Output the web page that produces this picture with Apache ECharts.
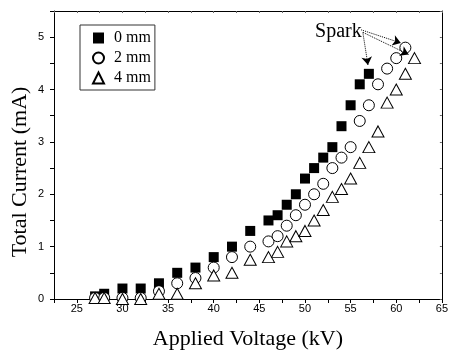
<!DOCTYPE html>
<html>
<head>
<meta charset="utf-8">
<script src="https://cdn.jsdelivr.net/npm/echarts@6/dist/echarts.min.js"></script>
<style>
	html, body { margin: 0; padding: 0; background: #fff; }
	#chart { width: 451px; height: 356px; }
</style>
</head>
<body>
<div id="chart"></div>
<script>
/* Data */
const voltage_0mm = [27, 28, 30, 32, 34, 36, 38, 40, 42, 44, 46, 47, 48, 49, 50, 51, 52, 53, 54, 55, 56, 57];
const current_0mm = [0.05, 0.1, 0.2, 0.2, 0.3, 0.5, 0.6, 0.8, 1.0, 1.3, 1.5, 1.6, 1.8, 2.0, 2.3, 2.5, 2.7, 2.9, 3.3, 3.7, 4.1, 4.3];

const voltage_2mm = [27, 28, 30, 32, 34, 36, 38, 40, 42, 44, 46, 47, 48, 49, 50, 51, 52, 53, 54, 55, 56, 57, 58, 59, 60, 61];
const current_2mm = [0.02, 0.02, 0.02, 0.02, 0.15, 0.3, 0.4, 0.6, 0.8, 1.0, 1.1, 1.2, 1.4, 1.6, 1.8, 2.0, 2.2, 2.5, 2.7, 2.9, 3.4, 3.7, 4.1, 4.4, 4.6, 4.8];

const voltage_4mm = [27, 28, 30, 32, 34, 36, 38, 40, 42, 44, 46, 47, 48, 49, 50, 51, 52, 53, 54, 55, 56, 57, 58, 59, 60, 61, 62];
const current_4mm = [0.02, 0.02, 0.0, 0.0, 0.1, 0.1, 0.3, 0.45, 0.5, 0.75, 0.8, 0.9, 1.1, 1.2, 1.3, 1.5, 1.7, 1.95, 2.1, 2.3, 2.6, 2.9, 3.2, 3.75, 4.0, 4.3, 4.6];

const seriesNames = ["0 mm", "2 mm", "4 mm"];

/* "Spark" annotation, in data units */
const sparkText = "Spark";
const sparkLabelAt = [56.27, 5.11];
const sparkArrows = [
	[[56.34, 5.09], [56.9, 4.47]],
	[[56.16, 5.14], [60.5, 4.89]],
	[[56.37, 5.09], [61.35, 4.67]],
];

const xRange = [22.5, 65];
const yRange = [0, 5.5];

const pairs = (xs, ys) => xs.map((x, i) => [x, ys[i]]);

const serif = "'Liberation Serif', 'Times New Roman', serif";
const sans = "'Liberation Sans', Arial, sans-serif";

/* Axes */
const frameAxis = (extra) => Object.assign({
	type: "value",
	axisLine: { show: true, onZero: false, lineStyle: { color: "#000", width: 1 } },
	axisTick: { show: true, inside: true, length: 2, lineStyle: { color: "#666" } },
	axisLabel: { show: false },
	splitLine: { show: false },
}, extra);

const option = {
	animation: false,
	backgroundColor: "#fff",
	grid: { left: 54, top: 11, right: 4, bottom: 57 },
	legend: {
		data: seriesNames,
		orient: "vertical",
		left: 80,
		top: 25,
		padding: [5, 4, 4, 12],
		itemWidth: 11,
		itemHeight: 11,
		itemGap: 4,
		borderColor: "#333",
		borderWidth: 1,
		textStyle: { fontFamily: serif, fontSize: 16, color: "#000", lineHeight: 16, padding: [0, 0, 0, 5] },
	},
	xAxis: [
		{
			type: "value",
			min: xRange[0],
			max: xRange[1],
			interval: 2.5,
			name: "Applied Voltage (kV)",
			nameLocation: "middle",
			nameGap: 29,
			nameTextStyle: { fontFamily: serif, fontSize: 22, color: "#000" },
			axisLine: { onZero: false, lineStyle: { color: "#000", width: 1 } },
			axisTick: { show: true, inside: false, length: 4, lineStyle: { color: "#000" } },
			axisLabel: {
				margin: 4,
				fontFamily: sans,
				fontSize: 11,
				color: "#000",
				showMinLabel: true,
				showMaxLabel: true,
				formatter: (v) => (v % 5 === 0 ? String(v) : ""),
			},
			splitLine: { show: false },
		},
		frameAxis({ position: "top", min: xRange[0], max: xRange[1], interval: 2.5 }),
	],
	yAxis: [
		{
			type: "value",
			min: yRange[0],
			max: yRange[1],
			interval: 0.5,
			axisLine: { show: true, onZero: false, lineStyle: { color: "#000", width: 1 } },
			axisTick: { show: true, inside: false, length: 4, lineStyle: { color: "#000" } },
			axisLabel: {
				margin: 10,
				fontFamily: sans,
				fontSize: 11,
				color: "#000",
				formatter: (v) => (Number.isInteger(v) ? String(v) : ""),
			},
			splitLine: { show: false },
		},
		frameAxis({ position: "right", min: yRange[0], max: yRange[1], interval: 0.5 }),
	],
	graphic: [
		{
			type: "text",
			x: 20,
			y: 172,
			rotation: Math.PI / 2,
			style: {
				text: "Total Current (mA)",
				font: "22px " + serif,
				fill: "#000",
				align: "center",
				verticalAlign: "middle",
			},
		},
	],
	series: [
		{
			name: seriesNames[0],
			type: "scatter",
			symbol: "rect",
			symbolSize: 10,
			itemStyle: { color: "#000", opacity: 1 },
			data: pairs(voltage_0mm, current_0mm),
			markPoint: {
				symbol: "circle",
				symbolSize: 1,
				itemStyle: { color: "rgba(0,0,0,0)" },
				label: {
					show: true,
					position: "left",
					distance: 0,
					formatter: sparkText,
					fontFamily: serif,
					fontSize: 20,
					color: "#000",
				},
				data: [{ coord: sparkLabelAt }],
			},
		},
		{
			name: seriesNames[1],
			type: "scatter",
			symbol: "circle",
			symbolSize: 11,
			itemStyle: { color: "#fff", borderColor: "#000", borderWidth: 1, opacity: 1 },
			data: pairs(voltage_2mm, current_2mm),
		},
		{
			name: seriesNames[2],
			type: "scatter",
			symbol: "triangle",
			symbolSize: [12, 11],
			itemStyle: { color: "#fff", borderColor: "#000", borderWidth: 1, opacity: 1 },
			data: pairs(voltage_4mm, current_4mm),
			markLine: {
				silent: true,
				symbol: ["none", "arrow"],
				symbolSize: 8,
				label: { show: false },
				itemStyle: { color: "#000" },
				lineStyle: { color: "#000", type: "dotted", width: 1, opacity: 1 },
				data: sparkArrows.map(([a, b]) => [{ coord: a }, { coord: b }]),
			},
		},
	],
};

const myChart = echarts.init(document.getElementById("chart"));
myChart.setOption(option);
</script>
</body>
</html>
